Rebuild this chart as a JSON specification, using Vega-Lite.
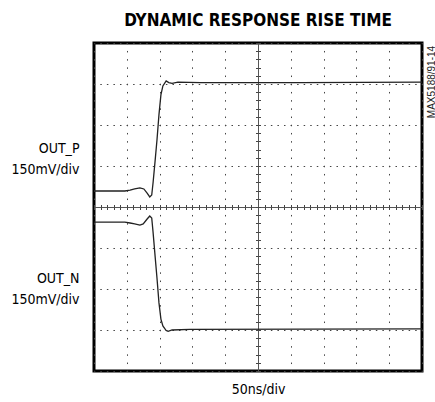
{
  "$schema": "https://vega.github.io/schema/vega-lite/v6.json",
  "width": 328,
  "height": 328,
  "autosize": "none",
  "padding": {"left": 94, "top": 43, "right": 13, "bottom": 31},
  "background": "white",
  "config": {
    "view": {"stroke": "black", "strokeWidth": 3},
    "font": "'Noto Sans Condensed', 'DejaVu Sans Condensed', 'Liberation Sans', sans-serif"
  },
  "title": {
    "text": "DYNAMIC RESPONSE RISE TIME",
    "font": "'Noto Sans Condensed', 'DejaVu Sans Condensed', 'Liberation Sans', sans-serif",
    "fontSize": 17,
    "fontWeight": "bold",
    "anchor": "middle",
    "offset": 19,
    "dy": 19,
    "baseline": "alphabetic",
    "color": "black"
  },
  "datasets": {
    "outp": [
      {"t": 0, "v": 58.5}, {"t": 47, "v": 58.5}, {"t": 55, "v": 62}, {"t": 62, "v": 66},
      {"t": 70, "v": 70}, {"t": 76, "v": 66}, {"t": 81, "v": 51}, {"t": 85, "v": 37},
      {"t": 88, "v": 44}, {"t": 90, "v": 88}, {"t": 93, "v": 165}, {"t": 96, "v": 245},
      {"t": 99, "v": 337}, {"t": 102, "v": 410}, {"t": 105, "v": 443}, {"t": 110, "v": 461},
      {"t": 114, "v": 455}, {"t": 119, "v": 452}, {"t": 128, "v": 457}, {"t": 162, "v": 455},
      {"t": 314, "v": 455}, {"t": 500, "v": 457}
    ],
    "outn": [
      {"t": 0, "v": -55}, {"t": 47, "v": -55}, {"t": 55, "v": -58.5}, {"t": 62, "v": -62},
      {"t": 70, "v": -66}, {"t": 75, "v": -62}, {"t": 81, "v": -44}, {"t": 85, "v": -33},
      {"t": 88, "v": -40}, {"t": 90, "v": -91}, {"t": 93, "v": -176}, {"t": 96, "v": -260},
      {"t": 99, "v": -350}, {"t": 102, "v": -410}, {"t": 105, "v": -435}, {"t": 110, "v": -452},
      {"t": 113, "v": -455}, {"t": 119, "v": -450}, {"t": 146, "v": -448}, {"t": 500, "v": -446}
    ],
    "none": []
  },
  "layer": [
    {
      "data": {"name": "outp"},
      "mark": {"type": "line", "color": "#222", "strokeWidth": 1.3},
      "encoding": {
        "x": {
          "field": "t", "type": "quantitative",
          "scale": {"domain": [0, 500], "nice": false, "zero": false},
          "axis": {
            "orient": "bottom",
            "values": [0, 50, 100, 150, 200, 250, 300, 350, 400, 450, 500],
            "grid": true, "gridDash": [1.5, 6.7], "gridDashOffset": 0.75, "gridColor": "#444", "gridWidth": 1, "gridOpacity": 1,
            "labels": false, "ticks": false, "domain": false,
            "title": "50ns/div", "titleFontSize": 14, "titleFontWeight": "normal",
            "titleColor": "black", "titleX": 164, "titleY": 22, "titleBaseline": "alphabetic", "titleAlign": "center"
          }
        },
        "y": {
          "field": "v", "type": "quantitative",
          "scale": {"domain": [-600, 600], "nice": false, "zero": false},
          "axis": {
            "orient": "left",
            "values": [-600, -450, -300, -150, 0, 150, 300, 450, 600],
            "grid": true, "gridDash": [1.5, 5.06], "gridDashOffset": 0.75, "gridColor": "#444", "gridWidth": 1, "gridOpacity": 1,
            "labels": false, "ticks": false, "domain": false,
            "title": ["OUT_P", "150mV/div"], "titleFontSize": 14, "titleFontWeight": "normal",
            "titleColor": "black", "titleAngle": 0, "titleAlign": "right", "titleBaseline": "alphabetic",
            "titleX": -15, "titleY": 109, "titleLineHeight": 21
          }
        }
      }
    },
    {
      "data": {"name": "outn"},
      "mark": {"type": "line", "color": "#222", "strokeWidth": 1.3},
      "encoding": {
        "x": {
          "field": "t", "type": "quantitative",
          "axis": {
            "orient": "bottom", "offset": -164,
            "values": [0,10,20,30,40,50,60,70,80,90,100,110,120,130,140,150,160,170,180,190,200,210,220,230,240,250,260,270,280,290,300,310,320,330,340,350,360,370,380,390,400,410,420,430,440,450,460,470,480,490,500],
            "grid": false, "labels": false, "ticks": true, "tickSize": 2.5, "tickColor": "#444", "tickWidth": 1,
            "domain": true, "domainColor": "#555", "domainWidth": 1, "title": null
          }
        },
        "y": {
          "field": "v", "type": "quantitative",
          "axis": {
            "orient": "left", "offset": -164,
            "values": [-600,-570,-540,-510,-480,-450,-420,-390,-360,-330,-300,-270,-240,-210,-180,-150,-120,-90,-60,-30,0,30,60,90,120,150,180,210,240,270,300,330,360,390,420,450,480,510,540,570,600],
            "grid": false, "labels": false, "ticks": true, "tickSize": 2.5, "tickColor": "#444", "tickWidth": 1,
            "domain": true, "domainColor": "#555", "domainWidth": 1, "title": null
          }
        }
      }
    },
    {
      "data": {"name": "none"},
      "mark": {"type": "point"},
      "encoding": {
        "x": {
          "field": "t", "type": "quantitative",
          "axis": {
            "orient": "top", "offset": -164,
            "values": [0,10,20,30,40,50,60,70,80,90,100,110,120,130,140,150,160,170,180,190,200,210,220,230,240,250,260,270,280,290,300,310,320,330,340,350,360,370,380,390,400,410,420,430,440,450,460,470,480,490,500],
            "grid": false, "labels": false, "ticks": true, "tickSize": 2.5, "tickColor": "#444", "tickWidth": 1,
            "domain": false, "title": null
          }
        },
        "y": {
          "field": "v", "type": "quantitative",
          "axis": {
            "orient": "right", "offset": -164,
            "values": [-600,-570,-540,-510,-480,-450,-420,-390,-360,-330,-300,-270,-240,-210,-180,-150,-120,-90,-60,-30,0,30,60,90,120,150,180,210,240,270,300,330,360,390,420,450,480,510,540,570,600],
            "grid": false, "labels": false, "ticks": true, "tickSize": 2.5, "tickColor": "#444", "tickWidth": 1,
            "domain": false, "title": null
          }
        }
      }
    },
    {
      "data": {"name": "none"},
      "mark": {"type": "point"},
      "encoding": {
        "x": {
          "field": "t", "type": "quantitative",
          "axis": {
            "orient": "top", "grid": false, "labels": false, "ticks": false, "domain": false,
            "title": "MAX5188/91-14", "titleFont": "Liberation Sans", "titleFontSize": 10, "titleFontWeight": "normal",
            "titleColor": "#222", "titleAngle": -90, "titleAlign": "center", "titleBaseline": "middle",
            "titleX": 337, "titleY": 38.5
          }
        },
        "y": {
          "field": "v", "type": "quantitative",
          "axis": {
            "orient": "left", "grid": false, "labels": false, "ticks": false, "domain": false,
            "title": ["OUT_N", "150mV/div"], "titleFontSize": 14, "titleFontWeight": "normal",
            "titleColor": "black", "titleAngle": 0, "titleAlign": "right", "titleBaseline": "alphabetic",
            "titleX": -15, "titleY": 239, "titleLineHeight": 21
          }
        }
      }
    }
  ],
  "resolve": {"axis": {"x": "independent", "y": "independent"}}
}
